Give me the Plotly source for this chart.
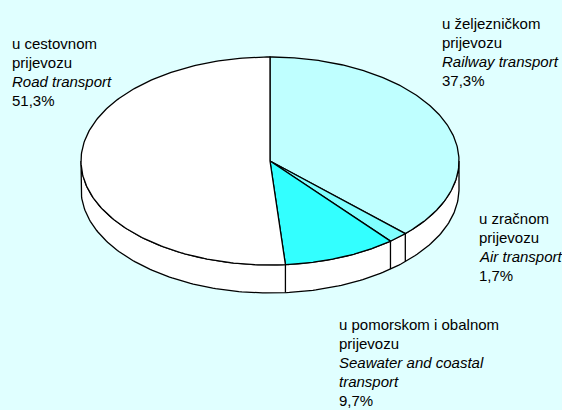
import numpy as np
import plotly.graph_objects as go

# ---- data ----
categories_hr = [["u željezničkom", "prijevozu"],
                 ["u zračnom", "prijevozu"],
                 ["u pomorskom i obalnom", "prijevozu"],
                 ["u cestovnom", "prijevozu"]]
categories_en = [["Railway transport"],
                 ["Air transport"],
                 ["Seawater and coastal", "transport"],
                 ["Road transport"]]
values = [37.3, 1.7, 9.7, 51.3]
value_labels = ["37,3%", "1,7%", "9,7%", "51,3%"]

# ---- style ----
slice_colors = ["#BFFFFF", "#80FFFF", "#33FFFF", "#FFFFFF"]
side_color = "#FFFFFF"
bg = "#E0FFFF"
W, H = 562, 410
CX, CY, RX, RY, DEPTH = 270, 161, 189, 104, 28
FONT = "Liberation Sans, Arial, sans-serif"
FS = 15
LINE = 19
# label anchor: left x, first baseline y
label_pos = [(440, 28), (477, 223), (337, 329), (10, 48)]


def arc(a0, a1, dy=0, n=200):
    t = np.radians(np.linspace(a0, a1, n))
    return CX + RX * np.sin(t), CY - RY * np.cos(t) + dy


fig = go.Figure()

# angles from data (clockwise from 12 o'clock)
total = sum(values)
cum = np.concatenate([[0], np.cumsum(values)]) / total * 360.0

# side (front half visible)
xt, yt = arc(90, 270)
xb, yb = arc(270, 90, DEPTH)
fig.add_trace(go.Scatter(x=np.concatenate([xt, xb, xt[:1]]),
                         y=np.concatenate([yt, yb, yt[:1]]),
                         mode="lines", fill="toself", fillcolor=side_color,
                         line=dict(color="black", width=1.3), hoverinfo="skip"))
for a in cum[1:-1]:
    if 90 < a < 270:
        x0, y0 = arc(a, a, 0, 1)
        x1, y1 = arc(a, a, DEPTH, 1)
        fig.add_trace(go.Scatter(x=[x0[0], x1[0]], y=[y0[0], y1[0]], mode="lines",
                                 line=dict(color="black", width=1.3), hoverinfo="skip"))

# top slices
for i, v in enumerate(values):
    ax, ay = arc(cum[i], cum[i + 1])
    fig.add_trace(go.Scatter(x=np.concatenate([[CX], ax, [CX]]),
                             y=np.concatenate([[CY], ay, [CY]]),
                             mode="lines", fill="toself", fillcolor=slice_colors[i],
                             line=dict(color="black", width=1.3), hoverinfo="skip"))

# labels
annotations = []
for i in range(len(values)):
    lines = [(t, False) for t in categories_hr[i]] + \
            [(t, True) for t in categories_en[i]] + [(value_labels[i], False)]
    lx, ly = label_pos[i]
    for k, (t, it) in enumerate(lines):
        annotations.append(dict(x=lx, y=ly + k * LINE - 5, xref="x", yref="y",
                                text=f"<i>{t}</i>" if it else t, showarrow=False,
                                xanchor="left", yanchor="middle",
                                font=dict(family=FONT, size=FS, color="black")))

fig.update_layout(width=W, height=H, margin=dict(l=0, r=0, t=0, b=0),
                  paper_bgcolor=bg, plot_bgcolor=bg, showlegend=False,
                  annotations=annotations,
                  xaxis=dict(range=[0, W], visible=False, fixedrange=True),
                  yaxis=dict(range=[H, 0], visible=False, fixedrange=True))
fig.write_html("out.html", config={"displayModeBar": False},
               post_script="document.body.style.margin='0';document.body.style.padding='0';"
                           "document.body.style.overflow='hidden';"
                           "document.body.style.background='" + bg + "';")
